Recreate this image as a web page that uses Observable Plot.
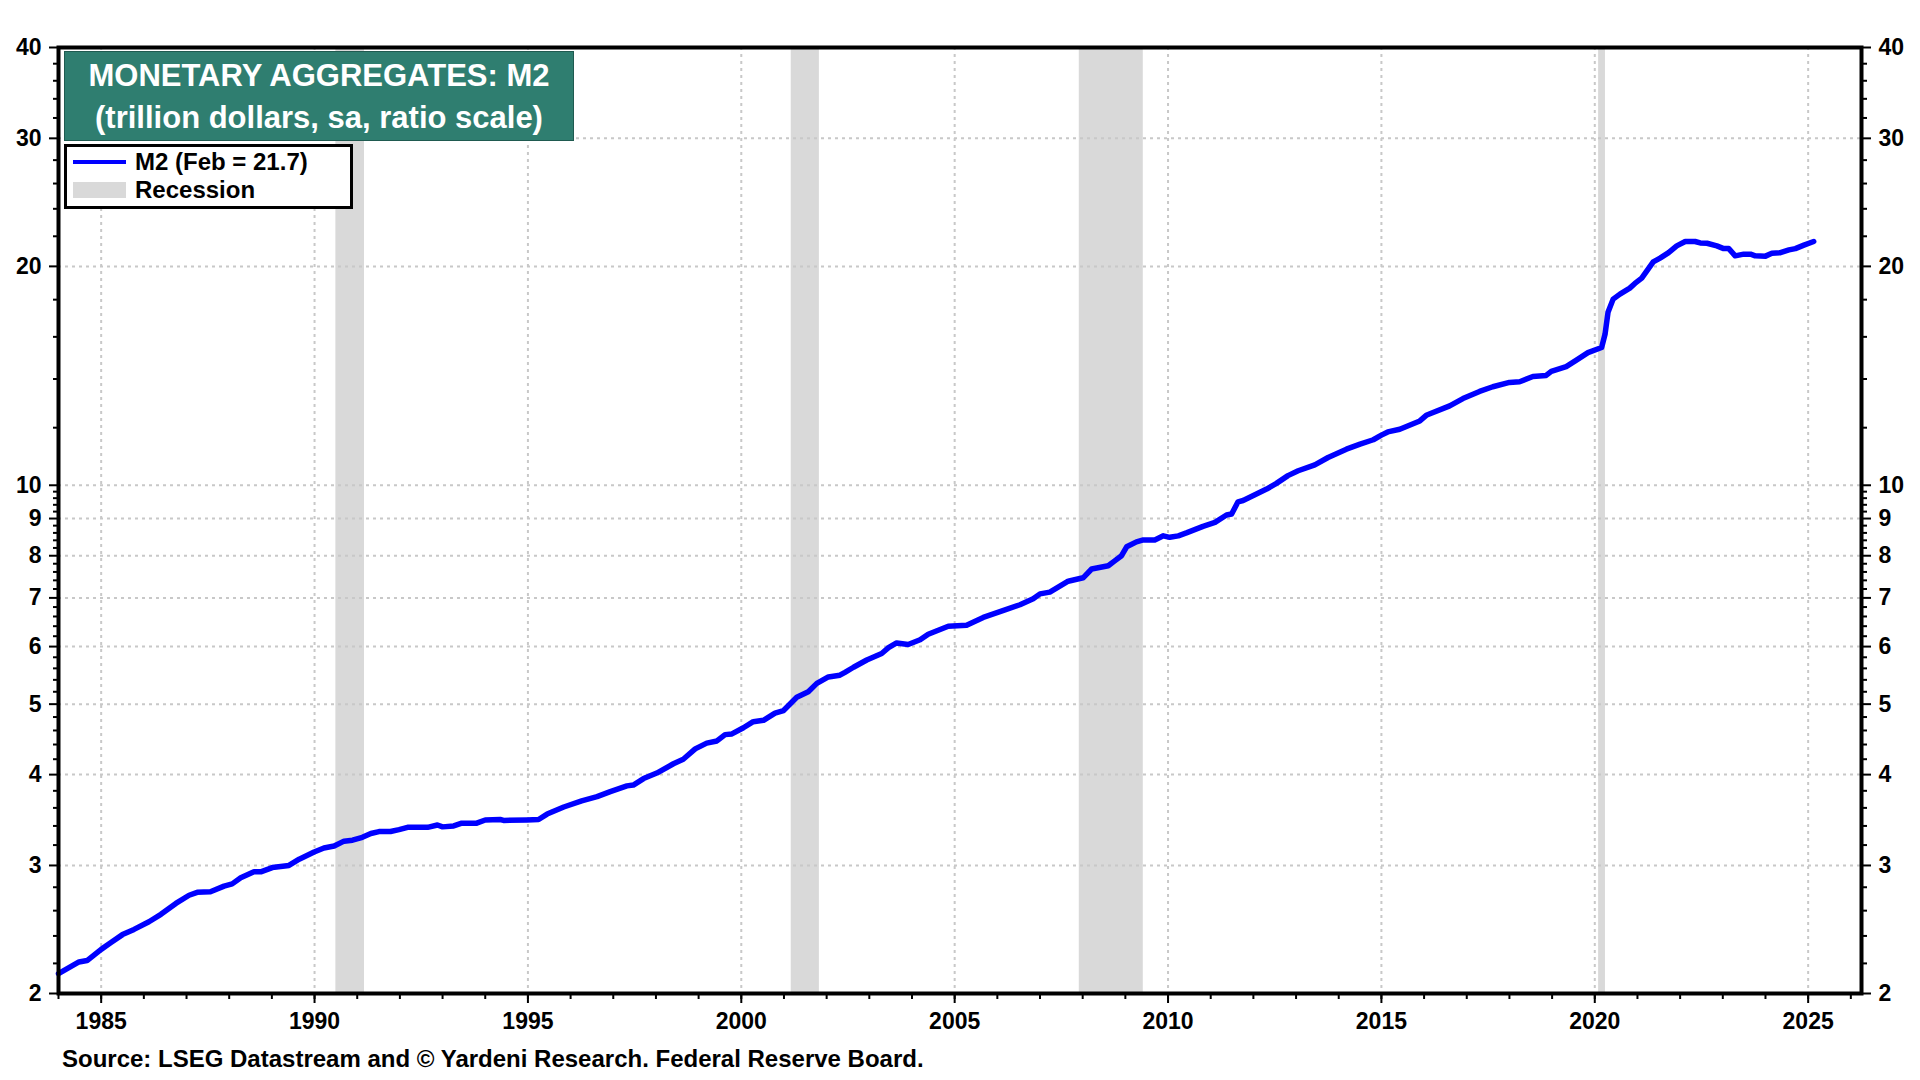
<!DOCTYPE html>
<html>
<head>
<meta charset="utf-8">
<script src="https://cdn.jsdelivr.net/npm/d3@7"></script>
<script src="https://cdn.jsdelivr.net/npm/@observablehq/plot@0.6"></script>
<style>
  html, body { margin: 0; padding: 0; background: #fff; }
  body { width: 1920px; height: 1080px; overflow: hidden; font-family: "Liberation Sans", Arial, sans-serif; }
  #wrap { position: relative; width: 1920px; height: 1080px; }
  #wrap svg { position: absolute; left: 0; top: 0; }
  #titlebox { position: absolute; left: 64px; top: 51px; width: 510px; height: 90px; background: #2f7e70; border: 1px solid #1f5a50; box-sizing: border-box; color: #fff; font-weight: bold; font-size: 31px; }
  #titlebox div { position: absolute; left: 0; width: 100%; text-align: center; height: 40px; line-height: 40px; white-space: nowrap; }
  #legend { position: absolute; left: 64px; top: 144px; width: 289px; height: 65px; background: #fff; border: 3px solid #000; box-sizing: border-box; font-weight: bold; font-size: 24px; color: #000; }
  #legend .row { position: absolute; left: 0; height: 28px; line-height: 28px; width: 100%; }
  #legend .lbl { position: absolute; left: 68px; top: 0; white-space: nowrap; }
  #legend .swl { position: absolute; left: 6px; top: 12px; width: 53px; height: 4px; background: #0000ff; }
  #legend .swr { position: absolute; left: 6px; top: 6px; width: 53px; height: 16px; background: #d9d9d9; }
  #source { position: absolute; left: 62px; top: 1044px; height: 30px; line-height: 30px; font-weight: bold; font-size: 24px; color: #000; white-space: nowrap; }
</style>
</head>
<body>
<div id="wrap">
  <div id="titlebox">
    <div style="top:4px">MONETARY AGGREGATES: M2</div>
    <div style="top:46px">(trillion dollars, sa, ratio scale)</div>
  </div>
  <div id="legend">
    <div class="row" style="top:1px"><div class="swl"></div><div class="lbl">M2 (Feb = 21.7)</div></div>
    <div class="row" style="top:29px"><div class="swr"></div><div class="lbl">Recession</div></div>
  </div>
  <div id="source">Source: LSEG Datastream and © Yardeni Research. Federal Reserve Board.</div>
</div>
<script>
// M2 money stock, trillion dollars, decimal year
const m2Year = [
  1984.00, 1984.48, 1984.67, 1985.00, 1985.23, 1985.50, 1985.77, 1986.12, 1986.40, 1986.75,
  1987.06, 1987.25, 1987.56, 1987.88, 1988.07, 1988.27, 1988.58, 1988.74, 1989.01, 1989.40,
  1989.64, 1989.99, 1990.22, 1990.46, 1990.69, 1990.89, 1991.12, 1991.32, 1991.51, 1991.78,
  1991.98, 1992.18, 1992.65, 1992.88, 1993.00, 1993.26, 1993.45, 1993.80, 1994.00, 1994.35,
  1994.43, 1994.98, 1995.25, 1995.45, 1995.84, 1996.26, 1996.62, 1996.93, 1997.32, 1997.47,
  1997.71, 1998.02, 1998.41, 1998.64, 1998.92, 1999.19, 1999.43, 1999.62, 1999.78, 2000.05,
  2000.28, 2000.52, 2000.79, 2000.99, 2001.30, 2001.57, 2001.77, 2002.04, 2002.31, 2002.43,
  2002.63, 2002.94, 2003.29, 2003.45, 2003.64, 2003.91, 2004.19, 2004.38, 2004.85, 2005.28,
  2005.67, 2006.18, 2006.53, 2006.84, 2007.00, 2007.23, 2007.66, 2008.01, 2008.21, 2008.60,
  2008.75, 2008.91, 2009.03, 2009.26, 2009.42, 2009.69, 2009.89, 2010.04, 2010.24, 2010.43,
  2010.82, 2011.10, 2011.37, 2011.49, 2011.64, 2011.76, 2012.31, 2012.54, 2012.81, 2013.05,
  2013.44, 2013.75, 2014.18, 2014.50, 2014.81, 2015.00, 2015.15, 2015.43, 2015.90, 2016.05,
  2016.60, 2016.91, 2017.30, 2017.61, 2018.00, 2018.24, 2018.55, 2018.86, 2018.98, 2019.33,
  2019.57, 2019.84, 2020.16, 2020.24, 2020.31, 2020.43, 2020.59, 2020.82, 2020.94, 2021.10,
  2021.37, 2021.53, 2021.73, 2021.92, 2022.12, 2022.35, 2022.47, 2022.63, 2022.86, 2023.02,
  2023.14, 2023.29, 2023.49, 2023.65, 2023.76, 2024.00, 2024.15, 2024.35, 2024.55, 2024.70,
  2024.90, 2025.13
];
const m2Value = [
  2.13, 2.21, 2.22, 2.30, 2.35, 2.41, 2.45, 2.51, 2.57, 2.66,
  2.73, 2.755, 2.76, 2.81, 2.83, 2.885, 2.94, 2.94, 2.98, 3.00,
  3.06, 3.13, 3.17, 3.19, 3.24, 3.25, 3.28, 3.32, 3.34, 3.34,
  3.36, 3.385, 3.385, 3.41, 3.39, 3.40, 3.43, 3.43, 3.465, 3.47,
  3.46, 3.465, 3.47, 3.53, 3.61, 3.68, 3.73, 3.79, 3.86, 3.87,
  3.95, 4.02, 4.14, 4.20, 4.34, 4.42, 4.45, 4.54, 4.55, 4.64,
  4.73, 4.75, 4.86, 4.90, 5.11, 5.20, 5.34, 5.45, 5.48, 5.53,
  5.62, 5.75, 5.87, 5.98, 6.07, 6.04, 6.13, 6.24, 6.40, 6.42,
  6.58, 6.74, 6.85, 6.98, 7.09, 7.13, 7.38, 7.46, 7.67, 7.75,
  7.87, 8.00, 8.23, 8.36, 8.41, 8.41, 8.52, 8.48, 8.52, 8.60,
  8.78, 8.89, 9.10, 9.13, 9.49, 9.53, 9.88, 10.06, 10.31, 10.47,
  10.67, 10.92, 11.21, 11.39, 11.55, 11.72, 11.84, 11.94, 12.26, 12.48,
  12.86, 13.16, 13.46, 13.66, 13.85, 13.88, 14.11, 14.16, 14.34, 14.56,
  14.86, 15.22, 15.47, 16.13, 17.29, 18.03, 18.32, 18.67, 18.95, 19.27,
  20.29, 20.53, 20.89, 21.34, 21.64, 21.64, 21.54, 21.52, 21.34, 21.16,
  21.16, 20.68, 20.79, 20.79, 20.68, 20.66, 20.85, 20.89, 21.07, 21.16,
  21.39, 21.64
];
// Recessions (decimal year)
const recessionStart = [1990.50, 2001.17, 2007.92, 2020.09];
const recessionEnd   = [1991.17, 2001.83, 2009.42, 2020.25];
// Tick values
const xMajorTicks = [1985, 1990, 1995, 2000, 2005, 2010, 2015, 2020, 2025];
const xMinorTicks = d3.range(1984, 2027);
const yMajorTicks = [2, 3, 4, 5, 6, 7, 8, 9, 10, 20, 30, 40];
const yGridTicks  = [3, 4, 5, 6, 7, 8, 9, 10, 20, 30];
const yMinorTicks = [
  2.2, 2.4, 2.6, 2.8, 3.2, 3.4, 3.6, 3.8, 4.2, 4.4, 4.6, 4.8, 5.2, 5.4, 5.6, 5.8,
  6.2, 6.4, 6.6, 6.8, 7.2, 7.4, 7.6, 7.8, 8.2, 8.4, 8.6, 8.8, 9.2, 9.4, 9.6, 9.8,
  12, 14, 16, 18, 22, 24, 26, 28, 32, 34, 36, 38
];

const m2 = m2Year.map((y, i) => ({year: y, value: m2Value[i]}));
const recessions = recessionStart.map((s, i) => ({start: s, end: recessionEnd[i]}));

const gridStyle = {stroke: "#c8c8c8", strokeOpacity: 1, strokeWidth: 2, strokeDasharray: "3,4"};
const blank = () => "";

const chart = Plot.plot({
  width: 1920,
  height: 1080,
  marginLeft: 58,
  marginRight: 59,
  marginTop: 47,
  marginBottom: 87,
  x: {type: "linear", domain: [1984, 2026.25], label: null},
  y: {type: "log", domain: [2, 40], label: null},
  style: {fontFamily: '"Liberation Sans", Arial, sans-serif', fontWeight: "bold", fontSize: "23px", color: "#000", background: "transparent", overflow: "visible"},
  marks: [
    Plot.rect(recessions, {x1: "start", x2: "end", fill: "#d9d9d9"}),
    Plot.gridX(xMajorTicks, gridStyle),
    Plot.gridY(yGridTicks, gridStyle),
    Plot.line(m2, {x: "year", y: "value", stroke: "#0000ff", strokeWidth: 5.5, strokeLinejoin: "round", strokeLinecap: "round"}),
    Plot.frame({stroke: "#000", strokeWidth: 4}),
    Plot.axisX(xMinorTicks, {anchor: "bottom", tickSize: 6, tickFormat: blank, label: null, strokeWidth: 2}),
    Plot.axisX(xMajorTicks, {anchor: "bottom", tickSize: 10, tickPadding: 9, tickFormat: d => String(d), label: null, strokeWidth: 2}),
    Plot.axisY(yMinorTicks, {anchor: "left", tickSize: 5, tickFormat: blank, label: null, strokeWidth: 2}),
    Plot.axisY(yMajorTicks, {anchor: "left", tickSize: 9, tickPadding: 8, tickFormat: d => String(d), label: null, strokeWidth: 2}),
    Plot.axisY(yMinorTicks, {anchor: "right", tickSize: 5, tickFormat: blank, label: null, strokeWidth: 2}),
    Plot.axisY(yMajorTicks, {anchor: "right", tickSize: 9, tickPadding: 8, tickFormat: d => String(d), label: null, strokeWidth: 2})
  ]
});
const wrap = document.getElementById("wrap");
wrap.insertBefore(chart, wrap.firstChild);
</script>
</body>
</html>
